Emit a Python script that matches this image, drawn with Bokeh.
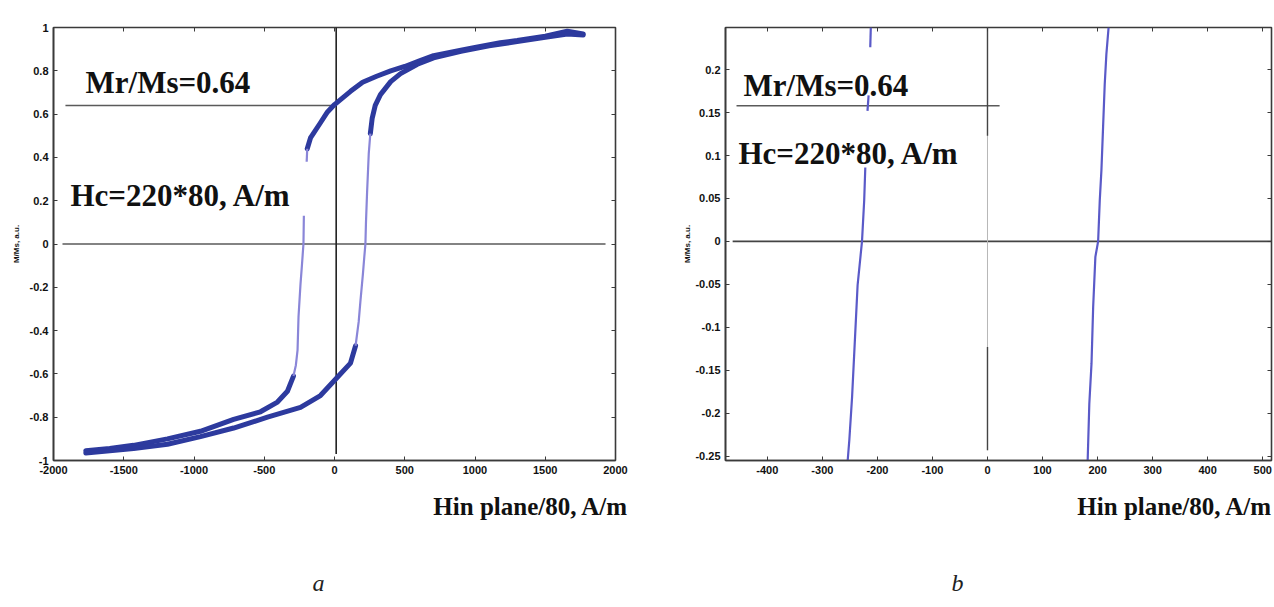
from bokeh.plotting import figure
from bokeh.models import Range1d, LinearAxis, FixedTicker, Label, Title
from bokeh.layouts import row, column
from bokeh.embed import file_html
from bokeh.resources import INLINE

# ---------------- Panel a data (H in plane/80, M/Ms) ----------------
# descending branch (from +saturation), saturated part
a_desc_sat_h = [1770, 1657, 1500, 1300, 1180, 1000, 900, 705, 600, 500, 400, 300, 200, 114, 0, -50, -100, -171, -194]
a_desc_sat_m = [0.97, 0.983, 0.96, 0.94, 0.93, 0.908, 0.895, 0.87, 0.845, 0.82, 0.80, 0.775, 0.747, 0.705, 0.644, 0.61, 0.56, 0.49, 0.44]
# descending branch, fast switching (sparse points)
a_desc_sw1_h = [-194, -198]
a_desc_sw1_m = [0.44, 0.38]
a_desc_sw2_h = [-218, -220, -221, -232, -242, -256, -263, -275, -292]
a_desc_sw2_m = [0.13, 0.04, 0.0, -0.10, -0.185, -0.335, -0.49, -0.56, -0.61]
# descending branch, towards -saturation
a_desc_neg_h = [-292, -335, -406, -527, -718, -954, -1189, -1430, -1600, -1770]
a_desc_neg_m = [-0.61, -0.68, -0.73, -0.775, -0.81, -0.865, -0.90, -0.93, -0.945, -0.955]
# ascending branch (from -saturation)
a_asc_neg_h = [-1770, -1600, -1430, -1189, -954, -718, -477, -242, -100, 14, 114, 150]
a_asc_neg_m = [-0.965, -0.955, -0.945, -0.925, -0.89, -0.85, -0.80, -0.755, -0.70, -0.62, -0.55, -0.47]
a_asc_sw_h = [150, 172, 185, 202, 212, 220, 224, 232, 244, 255]
a_asc_sw_m = [-0.47, -0.36, -0.26, -0.14, -0.06, 0.0, 0.10, 0.24, 0.42, 0.51]
a_asc_pos_h = [255, 268, 290, 327, 400, 470, 590, 705, 900, 1100, 1300, 1500, 1657, 1770]
a_asc_pos_m = [0.51, 0.58, 0.64, 0.69, 0.75, 0.787, 0.83, 0.86, 0.89, 0.915, 0.935, 0.955, 0.97, 0.965]

a_xticks = [-2000, -1500, -1000, -500, 0, 500, 1000, 1500, 2000]
a_xtick_labels = ["-2000", "-1500", "-1000", "-500", "0", "500", "1000", "1500", "2000"]
a_yticks = [-1, -0.8, -0.6, -0.4, -0.2, 0, 0.2, 0.4, 0.6, 0.8, 1]
a_ytick_labels = ["-1", "-0.8", "-0.6", "-0.4", "-0.2", "0", "0.2", "0.4", "0.6", "0.8", "1"]

a_mr = 0.64
a_mr_line_h = [-1915, 0]
a_zero_line_h = [-1936, 1929]
a_vert_line_h = 12
a_vert_line_m = [1, -0.97]

# ---------------- Panel b data (zoom) ----------------
b_desc_h1 = [-254, -251, -246, -240, -236, -228, -224, -222]
b_desc_m1 = [-0.255, -0.231, -0.181, -0.103, -0.051, 0.0, 0.048, 0.086]
b_desc_h2 = [-218, -216]
b_desc_m2 = [0.152, 0.170]
b_desc_h3 = [-213, -212]
b_desc_m3 = [0.226, 0.249]
b_asc_h = [182, 185, 189, 192, 196, 201, 204, 207, 210, 213, 216, 220]
b_asc_m = [-0.255, -0.189, -0.142, -0.076, -0.018, 0.0, 0.048, 0.083, 0.133, 0.183, 0.218, 0.249]

b_xticks = [-400, -300, -200, -100, 0, 100, 200, 300, 400, 500]
b_xtick_labels = ["-400", "-300", "-200", "-100", "0", "100", "200", "300", "400", "500"]
b_yticks = [-0.25, -0.2, -0.15, -0.1, -0.05, 0, 0.05, 0.1, 0.15, 0.2]
b_ytick_labels = ["-0.25", "-0.2", "-0.15", "-0.1", "-0.05", "0", "0.05", "0.1", "0.15", "0.2"]

b_mr_level = 0.158
b_mr_line_h = [-456, 22]
b_zero_line_h = [-463, 516]
b_vert_top_m = [0.249, 0.123]
b_vert_bot_m = [-0.123, -0.243]

label_mr = "Mr/Ms=0.64"
label_hc = "Hc=220*80, A/m"
label_x = "Hin plane/80, A/m"
label_y = "M/Ms, a.u."

DARK = "#2d3a9e"
LIGHT = "#8a86d8"
LINE = "#5a5a5a"
TICK_FONT = "Liberation Sans"
SERIF = "Liberation Serif"


def style(p, xticks, xlabels, yticks, ylabels, ylabel_standoff):
    p.xgrid.visible = False
    p.ygrid.visible = False
    p.outline_line_color = "#3a3a3a"
    p.outline_line_width = 1.6
    p.background_fill_color = "white"
    p.border_fill_color = "white"
    for ax, ticks, labels in ((p.xaxis[0], xticks, xlabels), (p.yaxis[0], yticks, ylabels)):
        ax.ticker = FixedTicker(ticks=ticks)
        ax.major_label_overrides = {t: l for t, l in zip(ticks, labels)}
        ax.major_tick_in = 4
        ax.major_tick_out = 0
        ax.minor_tick_line_color = None
        ax.axis_line_color = "#3a3a3a"
        ax.axis_line_width = 1.6
        ax.major_tick_line_color = "#3a3a3a"
        ax.major_label_text_font = TICK_FONT
        ax.major_label_text_font_style = "bold"
        ax.major_label_text_font_size = "11px"
        ax.major_label_text_color = "#111111"
        ax.major_label_standoff = 5
    p.yaxis[0].axis_label = label_y
    p.yaxis[0].axis_label_text_font = TICK_FONT
    p.yaxis[0].axis_label_text_font_style = "bold"
    p.yaxis[0].axis_label_text_font_size = "8px"
    p.yaxis[0].axis_label_text_color = "#111111"
    p.yaxis[0].axis_label_standoff = ylabel_standoff
    # MATLAB style ticks on top / right (no labels)
    for loc, ticks in (("above", xticks), ("right", yticks)):
        ax = LinearAxis(ticker=FixedTicker(ticks=ticks))
        ax.major_tick_in = 4
        ax.major_tick_out = 0
        ax.minor_tick_line_color = None
        ax.axis_line_color = None
        ax.major_tick_line_color = "#3a3a3a"
        ax.major_label_text_color = None
        ax.major_label_text_font_size = "1px"
        ax.major_label_standoff = 0
        p.add_layout(ax, loc)
    p.add_layout(Title(text=label_x, align="right", offset=0, standoff=28,
                       text_font=SERIF, text_font_size="25px", text_font_style="bold",
                       text_color="#111111"), "below")


def caption_fig(width, text, x):
    c = figure(width=width, height=40, x_range=Range1d(0, width), y_range=Range1d(0, 40),
               x_axis_type=None, y_axis_type=None, output_backend="svg", toolbar_location=None,
               min_border=0, min_border_left=0, min_border_right=0, min_border_top=0,
               min_border_bottom=0)
    c.outline_line_color = None
    c.xgrid.visible = False
    c.ygrid.visible = False
    c.add_layout(Label(x=x, y=25, x_units="screen", y_units="screen", text=text,
                       text_font=SERIF, text_font_size="24px", text_font_style="italic",
                       text_color="#222222", text_baseline="alphabetic", text_align="center"))
    return c


# ---------------- Panel a ----------------
pa = figure(width=665, height=567, x_range=Range1d(-2000, 2000), y_range=Range1d(-1, 1),
            output_backend="svg", toolbar_location=None,
            min_border_left=53, min_border_right=50, min_border_top=18, min_border_bottom=107)
style(pa, a_xticks, a_xtick_labels, a_yticks, a_ytick_labels, 6)
pa.below[-1].offset = -13

pa.line(a_mr_line_h, [a_mr, a_mr], line_color=LINE, line_width=1.4)
pa.line(a_zero_line_h, [0, 0], line_color=LINE, line_width=1.4)
pa.line([a_vert_line_h, a_vert_line_h], a_vert_line_m, line_color="#222222", line_width=1.6)

for hs, ms in ((a_desc_sat_h, a_desc_sat_m), (a_desc_neg_h, a_desc_neg_m),
               (a_asc_neg_h, a_asc_neg_m), (a_asc_pos_h, a_asc_pos_m)):
    pa.line(hs, ms, line_color=DARK, line_width=5, line_join="round", line_cap="round")
for hs, ms in ((a_desc_sw1_h, a_desc_sw1_m), (a_desc_sw2_h, a_desc_sw2_m), (a_asc_sw_h, a_asc_sw_m)):
    pa.line(hs, ms, line_color=LIGHT, line_width=2.2, line_join="round")

pa.add_layout(Label(x=32, y=378, x_units="screen", y_units="screen", text=label_mr,
                    text_font=SERIF, text_font_size="31px", text_font_style="bold",
                    text_color="#111111", text_baseline="alphabetic", text_align="left"))
pa.add_layout(Label(x=17, y=265, x_units="screen", y_units="screen", text=label_hc,
                    text_font=SERIF, text_font_size="31px", text_font_style="bold",
                    text_color="#111111", text_baseline="alphabetic", text_align="left"))

# ---------------- Panel b ----------------
pb = figure(width=609, height=567, x_range=Range1d(-476, 516), y_range=Range1d(-0.255, 0.249),
            output_backend="svg", toolbar_location=None,
            min_border_left=60, min_border_right=3, min_border_top=27, min_border_bottom=107)
style(pb, b_xticks, b_xtick_labels, b_yticks, b_ytick_labels, 0)
pb.below[-1].offset = -1

pb.line(b_mr_line_h, [b_mr_level, b_mr_level], line_color=LINE, line_width=1.4)
pb.line(b_zero_line_h, [0, 0], line_color="#444444", line_width=1.6)
pb.line([0, 0], [b_vert_top_m[0], b_vert_bot_m[1]], line_color="#b8b8b8", line_width=1.0)
pb.line([0, 0], b_vert_top_m, line_color="#444444", line_width=1.4)
pb.line([0, 0], b_vert_bot_m, line_color="#444444", line_width=1.4)

for hs, ms in ((b_desc_h1, b_desc_m1), (b_desc_h2, b_desc_m2), (b_desc_h3, b_desc_m3), (b_asc_h, b_asc_m)):
    pb.line(hs, ms, line_color="#5a5ac8", line_width=2.2, line_join="round")

pb.add_layout(Label(x=18, y=375, x_units="screen", y_units="screen", text=label_mr,
                    text_font=SERIF, text_font_size="31px", text_font_style="bold",
                    text_color="#111111", text_baseline="alphabetic", text_align="left"))
pb.add_layout(Label(x=13, y=307, x_units="screen", y_units="screen", text=label_hc,
                    text_font=SERIF, text_font_size="31px", text_font_style="bold",
                    text_color="#111111", text_baseline="alphabetic", text_align="left"))

ca = caption_fig(665, "a", 318)
cb = caption_fig(609, "b", 292)

layout = column(row(pa, pb, spacing=0), row(ca, cb, spacing=0), spacing=0)
open("out.html", "w").write(file_html(layout, INLINE))
